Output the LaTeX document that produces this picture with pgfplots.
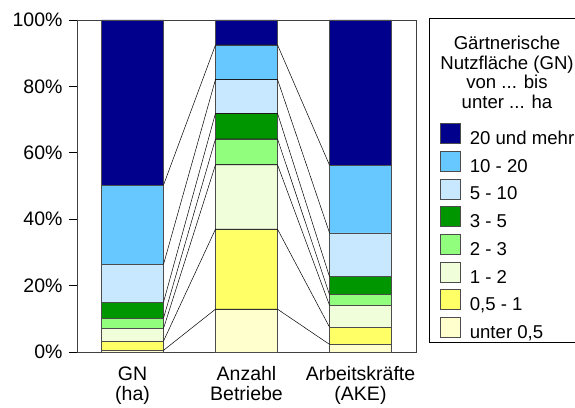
\documentclass[border=0pt]{standalone}
\usepackage{pgfplots}
\pgfplotsset{compat=1.18}
\usepackage{pgfplotstable}
\usepackage{fontspec}
\setmainfont{Liberation Sans}

\definecolor{c20}{RGB}{0,0,140}
\definecolor{c10}{RGB}{102,200,255}
\definecolor{c5}{RGB}{200,232,255}
\definecolor{c3}{RGB}{0,150,0}
\definecolor{c2}{RGB}{145,255,125}
\definecolor{c1}{RGB}{240,255,218}
\definecolor{c05}{RGB}{255,255,102}
\definecolor{c0}{RGB}{255,255,205}

% shares (%) of each size class of horticultural area
\pgfplotstableread{
x  u05  h05  k1   k2  k3  k5   k10  k20
0  0.5  2.8  3.8  3.1 4.8 11.4 23.9 49.7
1  12.9 24.1 19.4 7.8 7.7 10.2 10.4 7.5
2  2.3  5.2  6.6  3.2 5.4 13.2 20.4 43.7
}\shares

\newcommand\lblfont{\fontsize{19.5}{20}\selectfont}
\newcommand\legfont{\fontsize{18.6}{19.5}\selectfont}

\begin{document}
\begin{tikzpicture}[x=1pt,y=1pt]
\pgfplotsset{
  frame/.style={
    at={(0,0)}, anchor=south west,
    scale only axis, width=339pt, height=332pt,
    xmin=-0.487, xmax=2.487, ymin=0, ymax=100,
  }
}
\begin{axis}[frame,
  ybar stacked, bar width=0.544,
  axis line style={black!75, line width=0.7pt},
  ytick={0,20,...,100},
  yticklabel={\pgfmathprintnumber{\tick}\%},
  /pgf/number format/assume math mode=true,
  xtick={0,1,2},
  xticklabels={{GN\\(ha)},{Anzahl\\Betriebe},{Arbeitskräfte\\(AKE)}},
  x tick label style={align=center, yshift=-3pt},
  y tick label style={xshift=-3pt},
  tick label style={font=\lblfont},
  tick align=outside, tick pos=left,
  major tick length=8pt,
  major tick style={black, line width=0.7pt},
  major x tick style={draw=none},
  every axis plot/.append style={draw=black!70, line width=0.6pt},
  reverse legend,
  legend cell align=left,
  legend image code/.code={\draw[#1] (0pt,-4pt) rectangle (20pt,16pt);},
  legend style={
    draw=none, fill=none, font=\legfont,
    at={(363pt,229pt)}, anchor=north west,
    inner sep=0pt, row sep=2.4pt,
    nodes={inner sep=0pt, text height=14pt, text depth=4pt},
    /tikz/every odd column/.append style={column sep=9pt},
  },
]
\addplot[fill=c0]  table[x=x,y=u05]{\shares}; \addlegendentry{unter 0,5}
\addplot[fill=c05] table[x=x,y=h05]{\shares}; \addlegendentry{0,5 - 1}
\addplot[fill=c1]  table[x=x,y=k1]{\shares};  \addlegendentry{1 - 2}
\addplot[fill=c2]  table[x=x,y=k2]{\shares};  \addlegendentry{2 - 3}
\addplot[fill=c3]  table[x=x,y=k3]{\shares};  \addlegendentry{3 - 5}
\addplot[fill=c5]  table[x=x,y=k5]{\shares};  \addlegendentry{5 - 10}
\addplot[fill=c10] table[x=x,y=k10]{\shares}; \addlegendentry{10 - 20}
\addplot[fill=c20] table[x=x,y=k20]{\shares}; \addlegendentry{20 und mehr}
\end{axis}

% connector lines between the class boundaries of neighbouring bars
\begin{axis}[frame, hide axis]
\addplot[black, line width=0.5pt] coordinates {(0.272,0.5)  (0.728,12.9) (1.272,12.9) (1.728,2.3)};
\addplot[black, line width=0.5pt] coordinates {(0.272,3.3)  (0.728,37.0) (1.272,37.0) (1.728,7.5)};
\addplot[black, line width=0.5pt] coordinates {(0.272,7.1)  (0.728,56.4) (1.272,56.4) (1.728,14.1)};
\addplot[black, line width=0.5pt] coordinates {(0.272,10.2) (0.728,64.2) (1.272,64.2) (1.728,17.3)};
\addplot[black, line width=0.5pt] coordinates {(0.272,15.0) (0.728,71.9) (1.272,71.9) (1.728,22.7)};
\addplot[black, line width=0.5pt] coordinates {(0.272,26.4) (0.728,82.1) (1.272,82.1) (1.728,35.9)};
\addplot[black, line width=0.5pt] coordinates {(0.272,50.3) (0.728,92.5) (1.272,92.5) (1.728,56.3)};
\end{axis}

% legend frame and title
\draw[black, line width=0.7pt] (352,10) rectangle (508,334);
\node[font=\legfont, align=center, anchor=north, inner sep=0pt]
  at (430,316) {Gärtnerische\\Nutzfläche (GN)\\von ... bis\\unter ... ha};

\pgfresetboundingbox
\useasboundingbox (-77,-55) rectangle (498,352);
\end{tikzpicture}
\end{document}
